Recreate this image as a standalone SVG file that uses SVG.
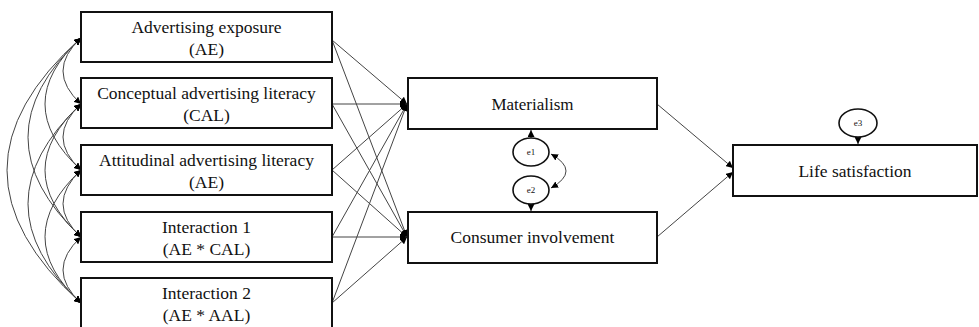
<svg xmlns="http://www.w3.org/2000/svg" width="979" height="327" viewBox="0 0 979 327">
<style>
.box{fill:#fff;stroke:#111;stroke-width:2}
.t{font-family:"Liberation Serif","Times New Roman",serif;font-size:17.5px;fill:#111;text-anchor:middle}
.t17{font-size:17px}
.e{font-family:"Liberation Serif","Times New Roman",serif;font-size:9px;fill:#111;text-anchor:middle}
.ell{fill:#fff;stroke:#111;stroke-width:1.6}
.ln{fill:none;stroke:#444;stroke-width:1}
.arr{marker-end:url(#ah)}
.cov{marker-start:url(#ahs);marker-end:url(#ah)}
</style>
<defs>
<marker id="ah" viewBox="0 0 10 10" refX="10" refY="5" markerWidth="7" markerHeight="7" markerUnits="userSpaceOnUse" orient="auto">
<path d="M0,0 L10,5 L0,10 z" fill="#000"/>
</marker>
<marker id="ahs" viewBox="0 0 10 10" refX="10" refY="5" markerWidth="7" markerHeight="7" markerUnits="userSpaceOnUse" orient="auto-start-reverse">
<path d="M0,0 L10,5 L0,10 z" fill="#000"/>
</marker>
</defs>
<g id="connectors">
<path class="ln cov" d="M81,38 Q45,71 81,104"/>
<path class="ln cov" d="M81,104 Q45,137 81,170"/>
<path class="ln cov" d="M81,170 Q45,204 81,237"/>
<path class="ln cov" d="M81,237 Q45,270 81,303"/>
<path class="ln cov" d="M81,38 Q9,104 81,170"/>
<path class="ln cov" d="M81,104 Q9,170 81,237"/>
<path class="ln cov" d="M81,170 Q9,237 81,303"/>
<path class="ln cov" d="M81,38 Q-25,137 81,237"/>
<path class="ln cov" d="M81,104 Q-25,204 81,303"/>
<path class="ln cov" d="M81,38 Q-67,170 81,303"/>
<line class="ln arr" x1="332" y1="40" x2="407" y2="104"/>
<line class="ln arr" x1="332" y1="104" x2="407" y2="104"/>
<line class="ln arr" x1="332" y1="170" x2="407" y2="104"/>
<line class="ln arr" x1="332" y1="237" x2="407" y2="104"/>
<line class="ln arr" x1="332" y1="303" x2="407" y2="104"/>
<line class="ln arr" x1="332" y1="40" x2="407" y2="237"/>
<line class="ln arr" x1="332" y1="104" x2="407" y2="237"/>
<line class="ln arr" x1="332" y1="170" x2="407" y2="237"/>
<line class="ln arr" x1="332" y1="237" x2="407" y2="237"/>
<line class="ln arr" x1="332" y1="303" x2="407" y2="237"/>
<line class="ln arr" x1="657" y1="104" x2="733" y2="168"/>
<line class="ln arr" x1="657" y1="237" x2="733" y2="172"/>
<line class="ln arr" x1="531" y1="138" x2="531" y2="130"/>
<line class="ln arr" x1="531" y1="204" x2="531" y2="211"/>
<path class="ln cov" d="M551,154 Q581,171 551,188"/>
<line class="ln arr" x1="858" y1="137" x2="858" y2="144"/>
</g>
<g id="n-ae"><rect class="box" x="81" y="12" width="251" height="50"/><text class="t" x="206.5" y="33">Advertising exposure</text><text class="t" x="206.5" y="55">(AE)</text></g>
<g id="n-cal"><rect class="box" x="81" y="78" width="251" height="50"/><text class="t" x="206.5" y="99">Conceptual advertising literacy</text><text class="t" x="206.5" y="121">(CAL)</text></g>
<g id="n-aal"><rect class="box" x="81" y="145" width="251" height="50"/><text class="t" x="206.5" y="166">Attitudinal advertising literacy</text><text class="t" x="206.5" y="188">(AE)</text></g>
<g id="n-int1"><rect class="box" x="81" y="212" width="251" height="50"/><text class="t" x="206.5" y="233">Interaction 1</text><text class="t" x="206.5" y="255">(AE * CAL)</text></g>
<g id="n-int2"><rect class="box" x="81" y="278" width="251" height="52"/><text class="t" x="206.5" y="299">Interaction 2</text><text class="t" x="206.5" y="321">(AE * AAL)</text></g>
<g id="n-mat"><rect class="box" x="408" y="78" width="249" height="51"/><text class="t t17" x="532.5" y="110">Materialism</text></g>
<g id="n-ci"><rect class="box" x="408" y="212" width="249" height="51"/><text class="t" x="532.5" y="243">Consumer involvement</text></g>
<g id="n-ls"><rect class="box" x="733" y="145" width="244" height="51"/><text class="t" x="855" y="177">Life satisfaction</text></g>
<g id="n-e1"><ellipse class="ell" cx="531" cy="152" rx="18" ry="14"/><text class="e" x="531" y="155">e1</text></g>
<g id="n-e2"><ellipse class="ell" cx="531" cy="190" rx="18" ry="14"/><text class="e" x="531" y="193">e2</text></g>
<g id="n-e3"><ellipse class="ell" cx="858" cy="123" rx="19" ry="14"/><text class="e" x="858" y="126">e3</text></g>
</svg>
